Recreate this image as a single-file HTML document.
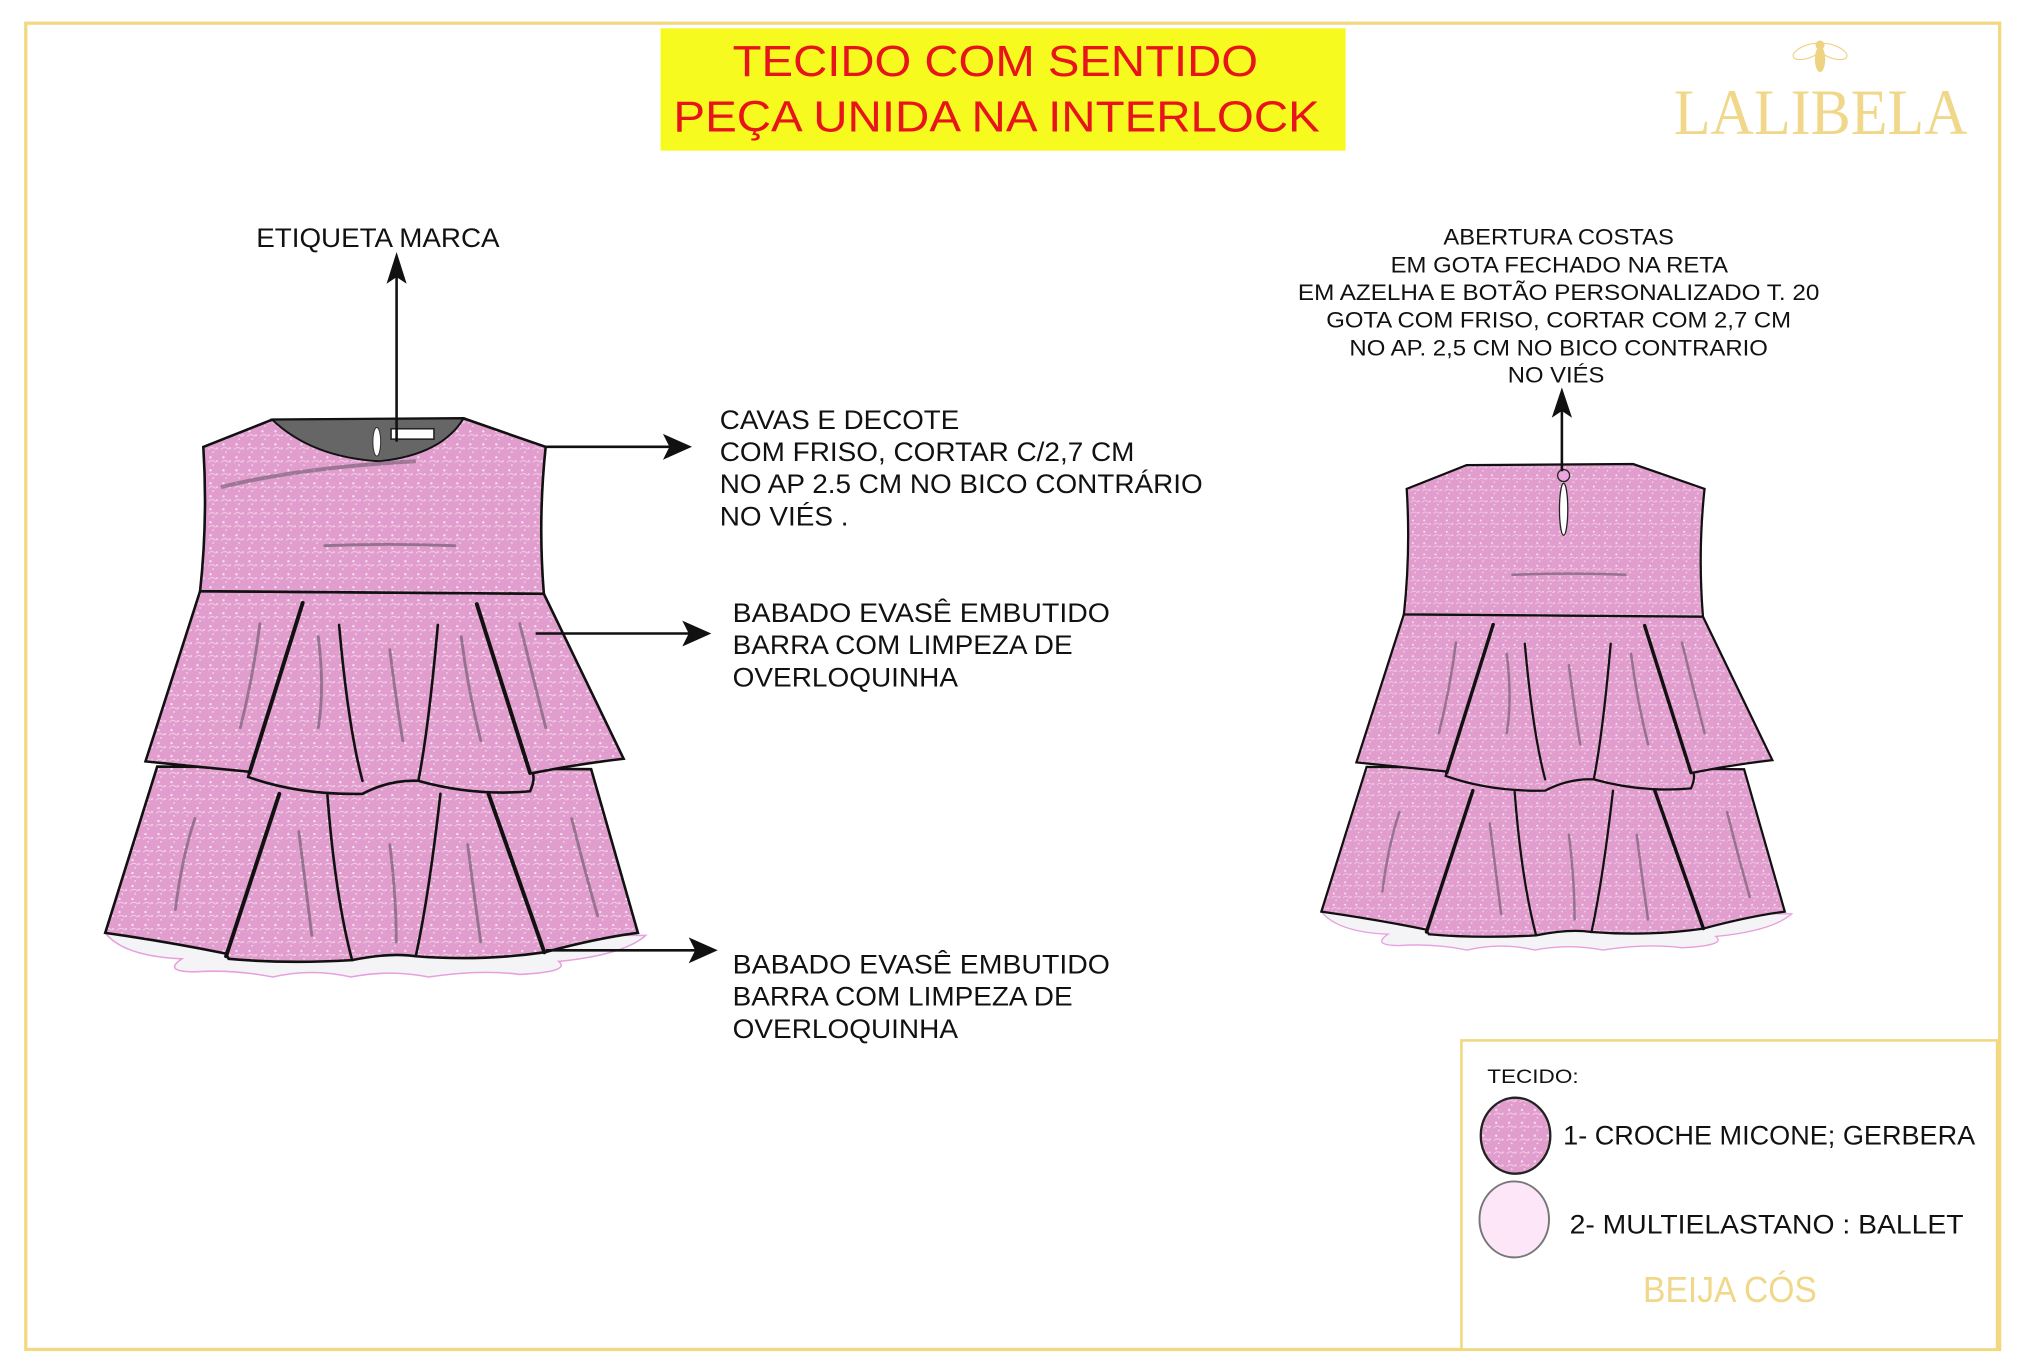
<!DOCTYPE html>
<html><head><meta charset="utf-8"><style>
html,body{margin:0;padding:0;background:#fff;}
svg{display:block;}
text{font-family:"Liberation Sans",Arial,sans-serif;}
</style></head><body>
<svg width="2019" height="1372" viewBox="0 0 1554 1056" preserveAspectRatio="none" xmlns="http://www.w3.org/2000/svg">
<defs>
<pattern id="lace" width="10" height="10" patternUnits="userSpaceOnUse">
<rect width="10" height="10" fill="#e19dcd"/>
<circle cx="2" cy="2" r="0.9" fill="#fff" opacity="0.7"/>
<circle cx="7" cy="5" r="0.8" fill="#fff" opacity="0.6"/>
<circle cx="4" cy="8" r="0.7" fill="#fff" opacity="0.6"/>
<path d="M0,6 Q3,3 6,6" stroke="#f3d2ea" stroke-width="0.6" fill="none"/>
</pattern>
<g id="dress">
<path d="M81,718 Q95,736 140,738 Q125,748 150,748 Q180,746 210,752 Q240,745 270,752 Q300,746 330,752 Q370,746 400,750 Q440,748 430,740 Q480,735 497,720 Z" fill="#f4f4f7" stroke="#e7a0dc" stroke-width="1.2"/>
<path d="M121,590 L81,718 Q130,725 174,734 L176,738 Q220,742 271,739 Q300,733 320,736 Q370,740 419,733 Q460,722 491,718 L455,592 Z" fill="url(#lace)" stroke="#111" stroke-width="2"/>
<path d="M154,455 L112,586 Q150,590 192,594 L191,598 Q230,612 279,611 Q300,600 322,601 Q365,613 408,609 Q412,600 410,595 Q445,588 480,584 L418.6,457 Z" fill="url(#lace)" stroke="#111" stroke-width="2"/>
<path d="M156.5,344 L209.5,323 L356.8,322 L420,344 Q414,400 418.6,457 L154,455 Q160,400 156.5,344 Z" fill="url(#lace)" stroke="#111" stroke-width="2"/>
<g stroke="#111" fill="none" stroke-linecap="round">
<path d="M233,464 L192,595" stroke-width="3"/>
<path d="M367,465 L408,595" stroke-width="3"/>
<path d="M261,481 Q268,560 279,601" stroke-width="2"/>
<path d="M337,481 Q330,560 322,601" stroke-width="2"/>
<path d="M215,611 L174,736" stroke-width="3"/>
<path d="M376,611 L419,733" stroke-width="3"/>
<path d="M252,612 Q258,690 271,739" stroke-width="2"/>
<path d="M339,611 Q330,690 320,736" stroke-width="2"/>
</g>
<g stroke="#6e5a6e" fill="none" stroke-width="2.2" opacity="0.65" stroke-linecap="round">
<path d="M250,420 Q300,418 350,420"/>
<path d="M245,490 Q250,530 245,560"/>
<path d="M300,500 Q305,540 310,570"/>
<path d="M355,490 Q360,530 370,570"/>
<path d="M150,630 Q140,660 135,700"/>
<path d="M230,640 Q235,680 240,720"/>
<path d="M300,650 Q305,690 305,725"/>
<path d="M360,650 Q365,690 370,725"/>
<path d="M440,630 Q450,670 460,705"/>
<path d="M200,480 Q195,520 185,560"/>
<path d="M400,480 Q410,520 420,560"/>
</g>
</g>
</defs>

<!-- left dress -->
<use href="#dress"/>
<path d="M209.5,323 L356.8,322 Q340,350 292,355 Q240,352 209.5,323 Z" fill="#666" stroke="#111" stroke-width="1.5"/>
<ellipse cx="290" cy="340" rx="3" ry="11" fill="#fff" stroke="#333" stroke-width="0.8"/>
<rect x="301" y="330" width="33" height="8" fill="#fff" stroke="#222" stroke-width="1.2"/>
<path d="M170,375 Q230,360 320,355" stroke="#6e5a6e" stroke-width="3" fill="none" opacity="0.6"/>

<!-- right dress -->
<g transform="translate(1198,358) scale(0.87) translate(-289,-323)"><use href="#dress"/></g>
<ellipse cx="1203.5" cy="392" rx="3.2" ry="20" fill="#fff" stroke="#222" stroke-width="1"/>
<circle cx="1203.5" cy="366" r="4.6" fill="#eaa6e0" stroke="#222" stroke-width="1"/>

<g transform="scale(0.99107)">
<!-- frame -->
<rect x="20" y="18" width="1533" height="1030" fill="none" stroke="#f2d87f" stroke-width="2.5"/>

<!-- title -->
<rect x="513" y="22" width="532" height="95" fill="#f6fa1e"/>
<text x="773" y="59" font-size="34" fill="#e8141c" text-anchor="middle" textLength="408" lengthAdjust="spacingAndGlyphs">TECIDO COM SENTIDO</text>
<text x="774" y="102" font-size="34" fill="#e8141c" text-anchor="middle" textLength="502" lengthAdjust="spacingAndGlyphs">PEÇA UNIDA NA INTERLOCK</text>

<!-- logo -->
<g fill="none" stroke="#eed382" stroke-width="0.9">
<ellipse cx="1404" cy="40" rx="12" ry="5" transform="rotate(-20 1404 40)"/>
<ellipse cx="1423" cy="40" rx="12" ry="5" transform="rotate(20 1423 40)"/>
</g>
<ellipse cx="1413.5" cy="46" rx="4" ry="10" fill="#eed382"/>
<circle cx="1413.5" cy="35" r="3.5" fill="#eed382"/>
<text x="1300" y="104" font-size="50" fill="#f0d78a" style="font-family:'Liberation Serif',serif" textLength="228" lengthAdjust="spacingAndGlyphs">LALIBELA</text>

<!-- arrows -->
<g stroke="#111" stroke-width="2" fill="#111">
<line x1="308" y1="343" x2="308" y2="212"/>
<path d="M308,199 L302,218 L308,214 L314,218 Z"/>
<line x1="424" y1="347" x2="522" y2="347"/>
<path d="M535,347 L517,339 L521,347 L517,355 Z"/>
<line x1="416" y1="492" x2="537" y2="492"/>
<path d="M550,492 L532,484 L536,492 L532,500 Z"/>
<line x1="424" y1="738" x2="542" y2="738"/>
<path d="M555,738 L537,730 L541,738 L537,746 Z"/>
<line x1="1213" y1="366" x2="1213" y2="316"/>
<path d="M1213,304 L1207,322 L1213,318 L1219,322 Z"/>
</g>

<!-- labels -->
<g fill="#111">
<text x="199" y="192" font-size="21" textLength="189" lengthAdjust="spacingAndGlyphs">ETIQUETA MARCA</text>
<text x="559" y="333" font-size="21" textLength="186" lengthAdjust="spacingAndGlyphs">CAVAS E DECOTE</text>
<text x="559" y="358" font-size="21" textLength="322" lengthAdjust="spacingAndGlyphs">COM FRISO, CORTAR C/2,7 CM</text>
<text x="559" y="383" font-size="21" textLength="375" lengthAdjust="spacingAndGlyphs">NO AP 2.5 CM NO BICO CONTRÁRIO</text>
<text x="559" y="408" font-size="21" textLength="100" lengthAdjust="spacingAndGlyphs">NO VIÉS .</text>
<text x="569" y="483" font-size="21" textLength="293" lengthAdjust="spacingAndGlyphs">BABADO EVASÊ  EMBUTIDO</text>
<text x="569" y="508" font-size="21" textLength="264" lengthAdjust="spacingAndGlyphs">BARRA COM LIMPEZA DE</text>
<text x="569" y="533" font-size="21" textLength="175" lengthAdjust="spacingAndGlyphs">OVERLOQUINHA</text>
<text x="569" y="756" font-size="21" textLength="293" lengthAdjust="spacingAndGlyphs">BABADO EVASÊ  EMBUTIDO</text>
<text x="569" y="781" font-size="21" textLength="264" lengthAdjust="spacingAndGlyphs">BARRA COM LIMPEZA DE</text>
<text x="569" y="806" font-size="21" textLength="175" lengthAdjust="spacingAndGlyphs">OVERLOQUINHA</text>
<text x="1121" y="190" font-size="17" textLength="179" lengthAdjust="spacingAndGlyphs">ABERTURA COSTAS</text>
<text x="1080" y="211.5" font-size="17" textLength="262" lengthAdjust="spacingAndGlyphs">EM GOTA FECHADO NA RETA</text>
<text x="1008" y="233" font-size="17" textLength="405" lengthAdjust="spacingAndGlyphs">EM AZELHA  E BOTÃO PERSONALIZADO T. 20</text>
<text x="1030" y="254.5" font-size="17" textLength="361" lengthAdjust="spacingAndGlyphs">GOTA COM FRISO, CORTAR COM 2,7 CM</text>
<text x="1048" y="276" font-size="17" textLength="325" lengthAdjust="spacingAndGlyphs">NO AP. 2,5 CM NO BICO CONTRARIO</text>
<text x="1171" y="297" font-size="17" textLength="75" lengthAdjust="spacingAndGlyphs">NO VIÉS</text>
</g>

<!-- legend -->
<rect x="1135" y="808" width="416" height="240" fill="#fff" stroke="#f2d87f" stroke-width="2"/>
<text x="1155" y="841" font-size="15" fill="#111" textLength="71" lengthAdjust="spacingAndGlyphs">TECIDO:</text>
<ellipse cx="1177" cy="882" rx="27" ry="29.5" fill="url(#lace)" stroke="#222" stroke-width="1.8"/>
<text x="1214" y="889" font-size="21" fill="#111" textLength="320" lengthAdjust="spacingAndGlyphs">1- CROCHE MICONE; GERBERA</text>
<ellipse cx="1176" cy="947" rx="27" ry="29.5" fill="#fde6f8" stroke="#777" stroke-width="1.5"/>
<text x="1219" y="958" font-size="21" fill="#111" textLength="306" lengthAdjust="spacingAndGlyphs">2- MULTIELASTANO  : BALLET</text>
<text x="1276" y="1011" font-size="28" fill="#f0d78a" textLength="135" lengthAdjust="spacingAndGlyphs">BEIJA CÓS</text>
</g>
</svg>
</body></html>
